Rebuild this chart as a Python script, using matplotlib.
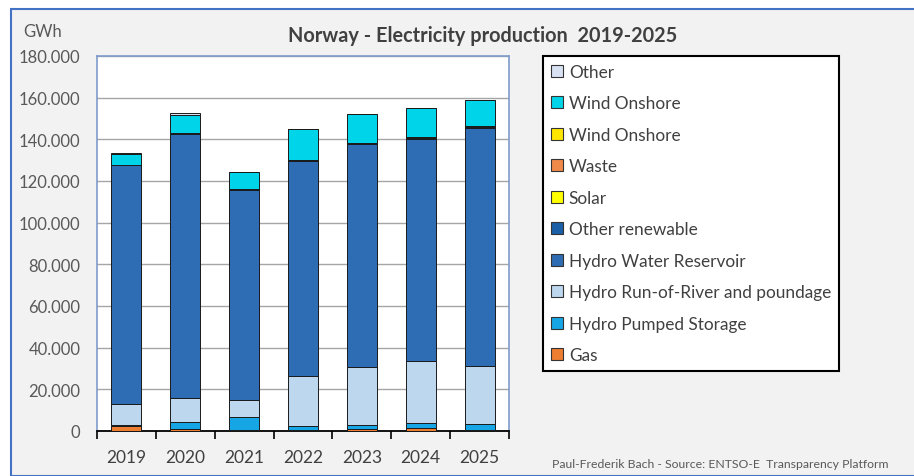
import matplotlib.pyplot as plt
from matplotlib.patches import Patch, Rectangle
from matplotlib.ticker import FuncFormatter

plt.rcParams['font.family'] = ['Lato', 'DejaVu Sans']

years = ["2019", "2020", "2021", "2022", "2023", "2024", "2025"]

# GWh per source, bottom of the stack first
gas = [2500, 1100, 300, 500, 800, 1400, 300]
hydro_pumped = [300, 3400, 6600, 1700, 2000, 2300, 3200]
hydro_river = [10000, 11200, 7800, 24400, 27800, 29700, 27900]
hydro_reservoir = [114900, 127100, 101100, 103200, 107000, 106800, 113900]
other_renewable = [200, 200, 300, 400, 500, 500, 500]
solar = [0, 0, 0, 50, 100, 150, 200]
waste = [0, 0, 0, 0, 0, 0, 0]
wind_offshore = [0, 0, 0, 0, 200, 400, 400]
wind_onshore = [5100, 8900, 8200, 14750, 13800, 13850, 12700]
other = [600, 700, 0, 0, 0, 0, 0]

series = [
    ("Gas", gas, "#ED7D31"),
    ("Hydro Pumped Storage", hydro_pumped, "#16A6E6"),
    ("Hydro Run-of-River and poundage", hydro_river, "#BDD7EE"),
    ("Hydro Water Reservoir", hydro_reservoir, "#2E6DB4"),
    ("Other renewable", other_renewable, "#1A5FA8"),
    ("Solar", solar, "#FFFF00"),
    ("Waste", waste, "#F08A4B"),
    ("Wind Onshore", wind_offshore, "#FFE600"),
    ("Wind Onshore", wind_onshore, "#00D4E8"),
    ("Other", other, "#D9E2F3"),
]

W, H = 914, 477
fig = plt.figure(figsize=(W / 100, H / 100), dpi=100, facecolor="white")

# grey chart area with blue frame
fig.add_artist(Rectangle((11 / W, 0), 1.0, 1 - 10 / H, transform=fig.transFigure,
                         facecolor="#F2F2F2", edgecolor="#4472C4", linewidth=1.5,
                         zorder=-10))

ax = fig.add_axes([97 / W, 1 - 432 / H, 412 / W, 375 / H])
ax.set_facecolor("white")

x = range(len(years))
bottom = [0] * len(years)
handles = []
for name, values, color in series:
    ax.bar(x, values, width=0.51, bottom=bottom, color=color,
           edgecolor="#1a1a1a", linewidth=0.7, zorder=3)
    bottom = [b + v for b, v in zip(bottom, values)]
    handles.append(Patch(facecolor=color, edgecolor="#333333", linewidth=0.8, label=name))

ax.set_xlim(-0.5, len(years) - 0.5)
ax.set_ylim(0, 180000)
ax.set_yticks(range(0, 180001, 20000))
ax.yaxis.set_major_formatter(FuncFormatter(
    lambda v, p: "0" if v == 0 else f"{int(v):,}".replace(",", ".")))
ax.grid(axis="y", color="#A6A6A6", linewidth=1.0, zorder=0)

ax.set_xticks(list(x))
ax.set_xticklabels(years)
ax.set_xticks([i - 0.5 for i in range(len(years) + 1)], minor=True)
ax.tick_params(axis="x", which="major", length=0, pad=13, labelsize=12.5,
               labelcolor="#404040")
ax.tick_params(axis="x", which="minor", length=6, width=1.2, color="black")
ax.tick_params(axis="y", length=0, pad=12, labelsize=12, labelcolor="#595959")

for side in ["left", "top", "right"]:
    ax.spines[side].set_color("#7F9BCB")
    ax.spines[side].set_linewidth(1.2)
ax.spines["bottom"].set_color("black")
ax.spines["bottom"].set_linewidth(1.3)

fig.text(43 / W, 1 - 32 / H, "GWh", ha="center", va="center", fontsize=12,
         color="#595959")
fig.text(483 / W, 1 - 36 / H, "Norway - Electricity production  2019-2025",
         ha="center", va="center", fontsize=14.3, fontweight="bold", color="#404040")
fig.text(552 / W, 1 - 465 / H,
         "Paul-Frederik Bach - Source: ENTSO-E  Transparency Platform",
         ha="left", va="center", fontsize=8.8, color="#595959")

leg = fig.legend(handles=handles[::-1], loc="upper left",
                 bbox_to_anchor=(543 / W, 1 - 57 / H), fontsize=12.4,
                 handlelength=0.7, handleheight=0.7, handletextpad=0.35,
                 labelspacing=0.9, borderpad=0.45, borderaxespad=0,
                 fancybox=False, framealpha=1, labelcolor="#404040")
leg.get_frame().set_edgecolor("black")
leg.get_frame().set_linewidth(1.5)

fig.savefig("out.png", dpi=100, facecolor=fig.get_facecolor())
